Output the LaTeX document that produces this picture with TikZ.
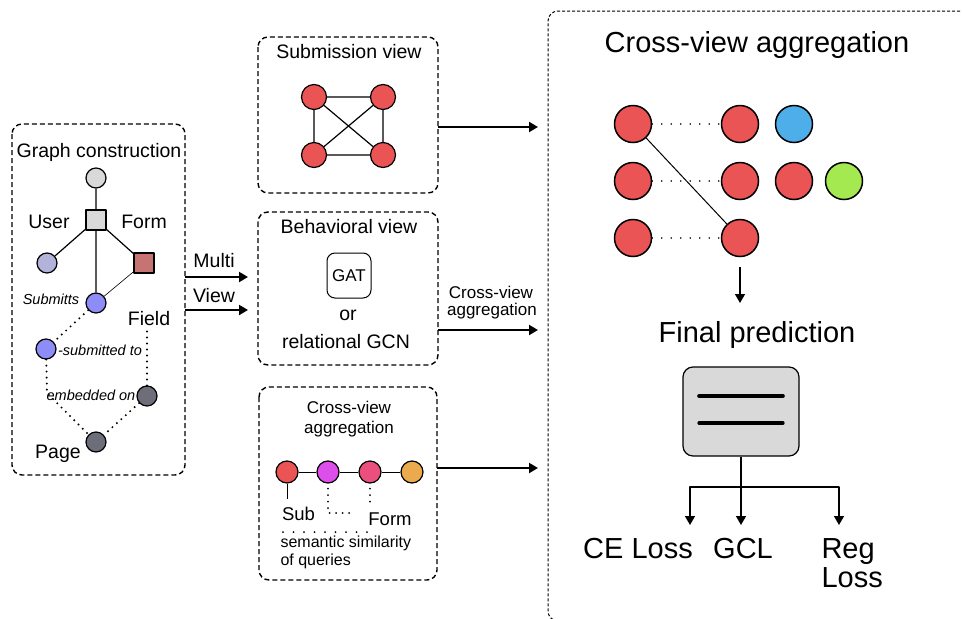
\documentclass[tikz,border=0pt]{standalone}
\usepackage{fontspec}
\setmainfont{Liberation Sans}
\usetikzlibrary{arrows.meta}
\definecolor{nodered}{HTML}{EA5455}
\definecolor{nodeblue}{HTML}{4EAEEA}
\definecolor{nodegreen}{HTML}{A3E94F}
\definecolor{nodemagenta}{HTML}{DD4FEA}
\definecolor{nodepink}{HTML}{EB4F7D}
\definecolor{nodeorange}{HTML}{EBAA4E}
\definecolor{hubgray}{HTML}{D9D9D9}
\definecolor{usercol}{HTML}{B3B3DA}
\definecolor{subcol}{HTML}{8E8CF7}
\definecolor{formcol}{HTML}{C57373}
\definecolor{pagecol}{HTML}{6E6E7A}
\tikzset{
  panel/.style={draw,line width=1.4pt,dash pattern=on 5pt off 3pt,rounded corners=10pt},
  dot/.style={circle,draw,line width=1.2pt,minimum size=#1,inner sep=0pt},
  dot/.default=20pt,
  sqnode/.style={rectangle,draw,line width=1.2pt,minimum size=20pt,inner sep=0pt},
  dotted line/.style={line width=2.2pt,dash pattern=on 0pt off 6pt,line cap=round},
  fine dots/.style={line width=1.9pt,dash pattern=on 0pt off 9.5pt,line cap=round},
  txtL/.style={font=\fontsize{29}{30}\selectfont},
  txtM/.style={font=\fontsize{19.5}{22}\selectfont},
  txtS/.style={font=\fontsize{17}{18}\selectfont},
  txtI/.style={font=\fontsize{14.5}{16}\selectfont\itshape},
}
\begin{document}
\begin{tikzpicture}[x=1pt,y=-1pt,line join=round,>={Triangle[length=9pt,width=10pt]}]
\useasboundingbox (0,0) rectangle (962,619);
% --- graph construction ---
\draw[panel] (12,124) rectangle (185,475);
\node[txtM,anchor=base] (t-graph) at (99,157) {Graph construction};
\node[dot,fill=hubgray] (g-top) at (96,178) {};
\node[sqnode,fill=hubgray] (g-hub) at (96,220) {};
\node[dot,fill=usercol] (g-user) at (47,263) {};
\node[sqnode,fill=formcol] (g-form) at (144,263) {};
\node[dot,fill=subcol] (g-sub) at (96,303) {};
\node[dot,fill=subcol] (g-subto) at (46,349) {};
\node[dot,fill=pagecol] (g-emb) at (147,396) {};
\node[dot,fill=pagecol] (g-page) at (96,442) {};
\node[txtM,anchor=base] (t-user) at (49,228) {User};
\node[txtM,anchor=base] (t-form) at (144,228) {Form};
\node[txtI,anchor=base] (t-sub) at (51,304) {Submitts};
\node[txtM,anchor=base] (t-field) at (149,325) {Field};
\node[txtI,anchor=base] (t-subto) at (100,355) {-submitted to};
\node[txtI,anchor=base] (t-emb) at (91,400) {embedded on};
\node[txtM,anchor=base] (t-page) at (58,458) {Page};
\draw[line width=1.2pt] (g-top) -- (g-hub) (g-hub) -- (g-user) (g-hub) -- (g-sub) (g-hub) -- (g-form);
\draw[line width=0.6pt] (g-form) -- (g-sub);
\draw[dotted line] (g-sub) -- (g-subto);
\draw[dotted line] (g-subto) -- (47,393) -- (g-page);
\draw[dotted line] (g-emb) -- (g-page);
\draw[dotted line] (g-emb) -- (g-emb |- t-field.south);
% multi view arrows
\coordinate (mv1) at (185,277);
\coordinate (mv2) at (185,310);
\draw[->,line width=2pt] (mv1) -- (248,277);
\draw[->,line width=2pt] (mv2) -- (248,310);
\node[txtM,anchor=base] (t-multi) at (214,267) {Multi};
\node[txtM,anchor=base] (t-view) at (214,302) {View};
% --- submission view ---
\draw[panel] (258,37) rectangle (438,193);
\node[txtM,anchor=base] (t-subm) at (349,58) {Submission view};
\node[dot=25pt,fill=nodered] (s1) at (314,97) {};
\node[dot=25pt,fill=nodered] (s2) at (383,97) {};
\node[dot=25pt,fill=nodered] (s3) at (314,155) {};
\node[dot=25pt,fill=nodered] (s4) at (383,155) {};
\draw[line width=1.2pt] (s1) -- (s2) -- (s4) -- (s3) -- (s1) (s1) -- (s4) (s2) -- (s3);
\coordinate (o1) at (438,127);
\draw[->,line width=2pt] (o1) -- (538,127);
% --- behavioral view ---
\draw[panel] (258,212) rectangle (438,365);
\node[txtM,anchor=base] (t-beh) at (349,233) {Behavioral view};
\node[draw,line width=1pt,rounded corners=8pt,minimum width=44pt,minimum height=45pt,txtS] (gat) at (349,275.5) {GAT};
\node[txtM,anchor=base] (t-or) at (348,320) {or};
\node[txtM,anchor=base] (t-gcn) at (346,348) {relational GCN};
\coordinate (o2) at (438,330);
\draw[->,line width=2pt] (o2) -- (538,330);
\node[txtS,anchor=base] (t-cv1) at (491,298) {Cross-view};
\node[txtS,anchor=base] (t-cv2) at (492,315) {aggregation};
% --- cross-view aggregation (semantic) ---
\draw[panel] (259,387) rectangle (437,580);
\node[txtS,anchor=base] (t-cva) at (349,413) {Cross-view};
\node[txtS,anchor=base] (t-cvb) at (349,433) {aggregation};
\node[dot=22pt,fill=nodered] (q1) at (287,472) {};
\node[dot=22pt,fill=nodemagenta] (q2) at (328,472) {};
\node[dot=22pt,fill=nodepink] (q3) at (370,472) {};
\node[dot=22pt,fill=nodeorange] (q4) at (412,472) {};
\draw[line width=1pt] (q1) -- (q2) -- (q3) -- (q4);
\draw[line width=1pt] (q1) -- (287,499);
\draw[line width=2pt,dash pattern=on 0pt off 6.5pt,line cap=round] (q2.south) ++(0,5) -- (328,513) -- (352,513);
\draw[line width=2pt,dash pattern=on 0pt off 6.5pt,line cap=round] (q3.south) ++(0,5) -- (370,508);
\node[txtS,font=\fontsize{18.5}{20}\selectfont,anchor=base] (t-qsub) at (298.5,520) {Sub};
\node[txtS,font=\fontsize{18.5}{20}\selectfont,anchor=base] (t-qform) at (390,525) {Form};
\draw[line width=2pt,dash pattern=on 0pt off 10.5pt,line cap=round] (283,532) -- (368,532);
\node[font=\fontsize{16}{18}\selectfont,anchor=base west] (t-sem1) at (277,547) {semantic similarity};
\node[font=\fontsize{16}{18}\selectfont,anchor=base west] (t-sem2) at (277,565) {of queries};
\coordinate (o3) at (437,468);
\draw[->,line width=2pt] (o3) -- (538,468);
% --- cross-view aggregation panel ---
\draw[line width=1pt,dash pattern=on 3pt off 2pt,rounded corners=10pt] (990,11) -- (548,11) -- (548,621) -- (990,621);
\node[txtL,anchor=base] (t-cross) at (757,52) {Cross-view aggregation};
\node[dot=37pt,line width=1.5pt,fill=nodered] (a1) at (633,124) {};
\node[dot=37pt,line width=1.5pt,fill=nodered] (a2) at (633,181) {};
\node[dot=37pt,line width=1.5pt,fill=nodered] (a3) at (633,238) {};
\node[dot=37pt,line width=1.5pt,fill=nodered] (b1) at (740,124) {};
\node[dot=37pt,line width=1.5pt,fill=nodered] (b2) at (740,181) {};
\node[dot=37pt,line width=1.5pt,fill=nodered] (b3) at (740,238) {};
\node[dot=37pt,line width=1.5pt,fill=nodeblue] (c1) at (794,124) {};
\node[dot=37pt,line width=1.5pt,fill=nodered] (c2) at (794,181) {};
\node[dot=37pt,line width=1.5pt,fill=nodegreen] (d2) at (844,181) {};
\draw[fine dots] (a1) -- (b1);
\draw[fine dots] (a2) -- (b2);
\draw[fine dots] (a3) -- (b3);
\draw[line width=1pt] (a1) -- (b3);
\draw[->,line width=1.5pt] (b3.south) ++(0,10) -- (740,303);
\node[txtL,anchor=base] (t-final) at (757,342) {Final prediction};
\node[draw,line width=1.2pt,fill=hubgray,rounded corners=10pt,minimum width=116pt,minimum height=89pt] (pred) at (741,411.5) {};
\draw[line width=3.6pt,line cap=round] (699,396) -- (783,396);
\draw[line width=3.2pt,line cap=round] (699,423) -- (783,423);
\coordinate (split) at (741,487);
\draw[->,line width=1.5pt] (pred) -- (741,525);
\draw[->,line width=1.5pt] (split) -| (690,525);
\draw[->,line width=1.5pt] (split) -| (839,525);
\node[txtL,anchor=base] (t-ce) at (638,558) {CE Loss};
\node[txtL,anchor=base] (t-gcl) at (743,558) {GCL};
\node[txtL,anchor=base west] (t-reg) at (818,558) {Reg};
\node[txtL,anchor=base west] (t-regl) at (818,587) {Loss};
\end{tikzpicture}
\end{document}
